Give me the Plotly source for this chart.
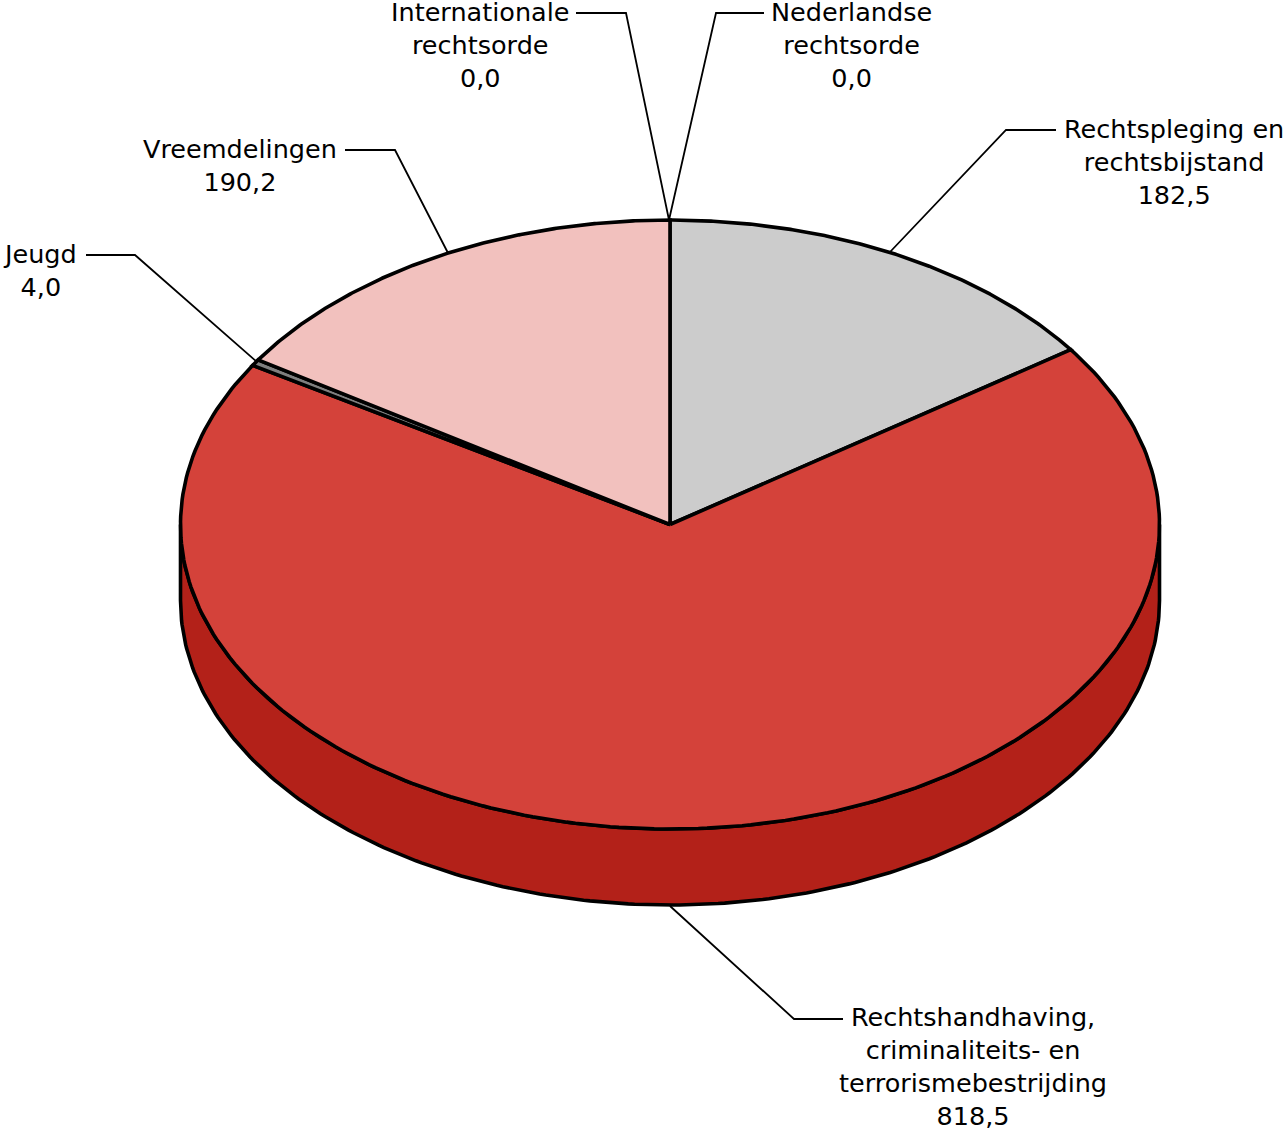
import numpy as np
import plotly.graph_objects as go

categories = ["Nederlandse rechtsorde", "Rechtspleging en rechtsbijstand",
              "Rechtshandhaving, criminaliteits- en terrorismebestrijding",
              "Jeugd", "Vreemdelingen", "Internationale rechtsorde"]
values = [0.0, 182.5, 818.5, 4.0, 190.2, 0.0]
colors = ["#CCCCCC", "#CCCCCC", "#D4423A", "#7F7F7F", "#F2C1BE", "#F2C1BE"]
side_colors = ["#8F8F8F", "#8F8F8F", "#B32119", "#555555", "#C9908C", "#C9908C"]

label_text = ["Nederlandse<br>rechtsorde<br>0,0", "Rechtspleging en<br>rechtsbijstand<br>182,5",
              "Rechtshandhaving,<br>criminaliteits- en<br>terrorismebestrijding<br>818,5",
              "Jeugd<br>4,0", "Vreemdelingen<br>190,2", "Internationale<br>rechtsorde<br>0,0"]
label_x = [851, 1174, 973, 40, 240, 480]
label_mid = [45, 162, 1066, 270, 165, 45]
leader_x = [[764, 716, 669], [1056, 1006, 890], [843, 794, 670], [86, 135, 257], [345, 395, 448], [576, 626, 669]]
leader_y = [[13, 13, 220], [130, 130, 252], [1019, 1019, 906], [255, 255, 362], [150, 150, 253], [13, 13, 220]]

CX, CY, RX, RY, DEPTH = 670.0, 524.5, 489.5, 304.5, 76.0
FONT = "DejaVu Sans"
FS = 25.5


def ell(t, dy=0.0):
    return CX + RX * np.sin(t), CY + dy - RY * np.cos(t)


fig = go.Figure()
edges = 2 * np.pi * np.concatenate([[0], np.cumsum(values)]) / sum(values)

# side wall (only the front half of the rim is visible)
for i in range(len(values)):
    a, b = max(edges[i], np.pi / 2), min(edges[i + 1], 3 * np.pi / 2)
    if b <= a:
        continue
    t = np.linspace(a, b, 240)
    x1, y1 = ell(t)
    x2, y2 = ell(t[::-1], DEPTH)
    fig.add_trace(go.Scatter(x=np.r_[x1, x2, x1[0]], y=np.r_[y1, y2, y1[0]], mode="lines", fill="toself",
                             fillcolor=side_colors[i], line=dict(color="black", width=3.6),
                             hoverinfo="skip", showlegend=False))

# top face
for i in range(len(values)):
    if values[i] <= 0:
        continue
    t = np.linspace(edges[i], edges[i + 1], 240)
    x, y = ell(t)
    fig.add_trace(go.Scatter(x=np.r_[CX, x, CX], y=np.r_[CY, y, CY], mode="lines", fill="toself",
                             fillcolor=colors[i], line=dict(color="black", width=3.6),
                             name=categories[i], showlegend=False))

# leader lines
for lx, ly in zip(leader_x, leader_y):
    fig.add_trace(go.Scatter(x=lx, y=ly, mode="lines", line=dict(color="black", width=1.8),
                             hoverinfo="skip", showlegend=False))

for txt, x, mid in zip(label_text, label_x, label_mid):
    fig.add_annotation(x=x, y=mid, text=txt, showarrow=False, xanchor="center", yanchor="middle",
                       align="center", font=dict(family=FONT, size=FS, color="black"),
                       borderpad=0, borderwidth=0, xref="x", yref="y")

fig.update_xaxes(range=[0, 1286], visible=False, fixedrange=True)
fig.update_yaxes(range=[1130, 0], visible=False, fixedrange=True)
fig.update_layout(width=1286, height=1130, margin=dict(l=0, r=0, t=0, b=0, pad=0),
                  plot_bgcolor="white", paper_bgcolor="white", showlegend=False)
fig.write_html("out.html", config={"displayModeBar": False},
               post_script="document.body.style.margin='0';document.body.style.overflow='hidden';")
